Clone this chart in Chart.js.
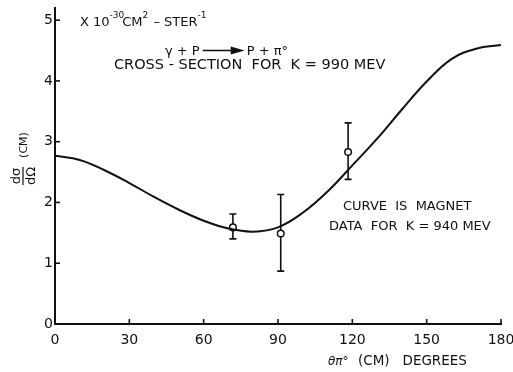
<!DOCTYPE html>
<html>
<head>
<meta charset="utf-8">
<script src="https://cdn.jsdelivr.net/npm/chart.js@4.4.1/dist/chart.umd.min.js"></script>
<style>
  html, body { margin: 0; padding: 0; background: #fff; }
  #wrap { width: 513px; height: 372px; }
</style>
</head>
<body>
<div id="wrap"><canvas id="crossSection" width="513" height="372"></canvas></div>
<script>
// curve (degrees, dsigma/dOmega in 10^-30 cm^2/ster)
const curveAngles = [0, 10, 20, 30, 40, 50, 60, 70, 80, 90, 100, 110, 120, 130, 140, 150, 160, 170, 180];
const curveValues = [2.77, 2.70, 2.53, 2.32, 2.09, 1.88, 1.70, 1.57, 1.52, 1.59, 1.83, 2.18, 2.61, 3.05, 3.53, 3.99, 4.36, 4.53, 4.59];

// measured points with error bars
const pointAngles = [71.8, 91.1, 118.3];
const pointValues = [1.59, 1.49, 2.83];
const errLow = [1.40, 0.87, 2.38];
const errHigh = [1.81, 2.13, 3.31];

const xTicks = [0, 30, 60, 90, 120, 150, 180];
const yTicks = [0, 1, 2, 3, 4, 5];

const INK = '#111';
const FONT = '"DejaVu Sans", "Liberation Sans", sans-serif';

// error bars + inward tick marks
const errorBars = {
    id: 'errorBars',
    beforeDatasetsDraw(chart) {
        const { ctx, scales: { x, y } } = chart;
        ctx.save();
        ctx.strokeStyle = INK;
        ctx.lineWidth = 1.6;
        pointAngles.forEach((a, i) => {
            const px = x.getPixelForValue(a);
            const top = y.getPixelForValue(errHigh[i]);
            const bot = y.getPixelForValue(errLow[i]);
            ctx.beginPath();
            ctx.moveTo(px, top); ctx.lineTo(px, bot);
            ctx.moveTo(px - 3.5, top); ctx.lineTo(px + 3.5, top);
            ctx.moveTo(px - 3.5, bot); ctx.lineTo(px + 3.5, bot);
            ctx.stroke();
        });
        // ticks pointing into the plot
        const y0 = y.getPixelForValue(0);
        const x0 = x.getPixelForValue(0);
        xTicks.forEach(t => {
            if (t === 0) return;
            const px = x.getPixelForValue(t);
            ctx.beginPath(); ctx.moveTo(px, y0); ctx.lineTo(px, y0 - 5); ctx.stroke();
        });
        yTicks.forEach(t => {
            if (t === 0) return;
            const py = y.getPixelForValue(t);
            ctx.beginPath(); ctx.moveTo(x0, py); ctx.lineTo(x0 + 5, py); ctx.stroke();
        });
        ctx.restore();
    }
};

// annotations and axis titles
const labels = {
    id: 'labels',
    afterDraw(chart) {
        const { ctx } = chart;
        ctx.save();
        ctx.fillStyle = INK;
        ctx.strokeStyle = INK;
        ctx.textBaseline = 'alphabetic';
        ctx.textAlign = 'left';

        // X 10^-30 CM^2 - STER^-1
        const big = '13px ' + FONT, small = '9px ' + FONT;
        let cx = 80;
        const parts = [['X 10', big, 0, 0], ['-30', small, -8, -2], ['CM', big, 0, 0], ['2', small, -8, 1], [' \u2013 STER', big, 0, 0], ['-1', small, -8, 0]];
        parts.forEach(([s, f, dy, gap]) => {
            ctx.font = f;
            ctx.fillText(s, cx, 26 + dy);
            cx += ctx.measureText(s).width + gap;
        });

        // gamma + P -> P + pi0
        ctx.font = '13px ' + FONT;
        let rx = 165;
        ctx.fillText('\u03B3 + P', rx, 55);
        rx += ctx.measureText('\u03B3 + P').width + 3;
        ctx.lineWidth = 1.5;
        ctx.beginPath(); ctx.moveTo(rx, 50.5); ctx.lineTo(rx + 32, 50.5); ctx.stroke();
        ctx.beginPath(); ctx.moveTo(rx + 42, 50.5); ctx.lineTo(rx + 28, 46.5); ctx.lineTo(rx + 28, 54.5); ctx.closePath(); ctx.fill();
        ctx.fillText('P + \u03C0\u00B0', rx + 44, 55);

        ctx.font = '14.5px ' + FONT;
        ctx.fillText('CROSS - SECTION  FOR  K = 990 MEV', 114, 69);
        ctx.font = '13px ' + FONT;
        ctx.fillText('CURVE  IS  MAGNET', 343, 210);
        ctx.fillText('DATA  FOR  K = 940 MEV', 329, 230);

        // x title
        ctx.font = 'italic 12px ' + FONT;
        ctx.fillText('\u03B8\u03C0\u00B0', 328, 365);
        ctx.font = '13.5px ' + FONT;
        ctx.fillText('(CM)   DEGREES', 358, 365);

        // y title: d sigma / d Omega (CM), rotated
        ctx.translate(23, 176);
        ctx.rotate(-Math.PI / 2);
        ctx.textAlign = 'center';
        ctx.font = '13px ' + FONT;
        ctx.fillText('d\u03C3', 0, -3);
        ctx.fillText('d\u03A9', 0, 12);
        ctx.lineWidth = 1.2;
        ctx.beginPath(); ctx.moveTo(-9, 0); ctx.lineTo(9, 0); ctx.stroke();
        ctx.font = '11px ' + FONT;
        ctx.fillText('(CM)', 31, 4);
        ctx.restore();
    }
};

const ctx = document.getElementById('crossSection').getContext('2d');
new Chart(ctx, {
    type: 'scatter',
    data: {
        datasets: [
            {
                data: curveAngles.map((a, i) => ({ x: a, y: curveValues[i] })),
                showLine: true,
                tension: 0.4,
                pointRadius: 0,
                borderColor: INK,
                borderWidth: 2
            },
            {
                data: pointAngles.map((a, i) => ({ x: a, y: pointValues[i] })),
                pointRadius: 3.3,
                pointBackgroundColor: '#fff',
                pointBorderColor: INK,
                pointBorderWidth: 1.5
            }
        ]
    },
    options: {
        responsive: false,
        animation: false,
        layout: { padding: { top: 8, right: 12, left: 0, bottom: 0 } },
        plugins: { legend: { display: false }, tooltip: { enabled: false } },
        scales: {
            x: {
                type: 'linear',
                min: 0,
                max: 180,
                afterBuildTicks: s => { s.ticks = xTicks.map(v => ({ value: v })); },
                afterFit: s => { s.height = 48; s.paddingLeft = 0; s.paddingRight = 0; },
                grid: { display: true, drawOnChartArea: false, drawTicks: false },
                border: { display: true, color: INK, width: 2 },
                ticks: { color: INK, padding: 8, font: { family: FONT, size: 14 } }
            },
            y: {
                type: 'linear',
                min: 0,
                max: 5.2,
                afterBuildTicks: s => { s.ticks = yTicks.map(v => ({ value: v })); },
                afterFit: s => { s.width = 55; s.paddingTop = 0; s.paddingBottom = 0; },
                grid: { display: true, drawOnChartArea: false, drawTicks: false },
                border: { display: true, color: INK, width: 2 },
                ticks: { color: INK, padding: 2, font: { family: FONT, size: 14 } }
            }
        }
    },
    plugins: [errorBars, labels]
});
</script>
</body>
</html>
